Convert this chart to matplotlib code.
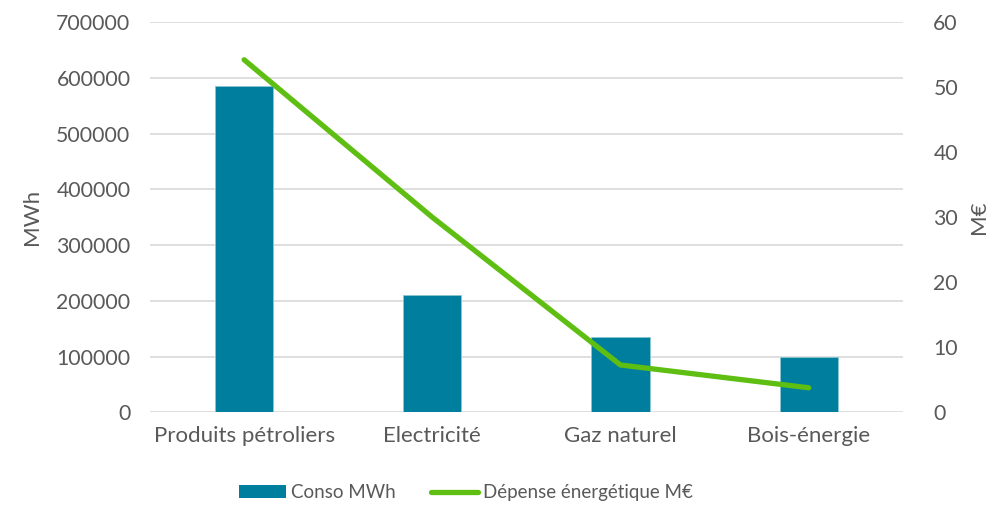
import matplotlib.pyplot as plt
from matplotlib.lines import Line2D
from matplotlib.patches import Patch

plt.rcParams.update({
    'font.family': ['Lato', 'DejaVu Sans'],
    'font.size': 15,
    'text.color': '#595959',
    'axes.labelcolor': '#595959',
    'xtick.color': '#595959',
    'ytick.color': '#595959',
})

categories = ["Produits pétroliers", "Electricité", "Gaz naturel", "Bois-énergie"]
conso_mwh = [585000, 210000, 136000, 99000]
depense_meur = [54.2, 30.0, 7.3, 3.8]

bar_color = "#007E9E"
line_color = "#5EBE12"

fig = plt.figure(figsize=(10.02, 5.07), dpi=100)
ax = fig.add_axes([0.1497, 0.1864, 0.7513, 0.7702])
ax2 = ax.twinx()

x = list(range(len(categories)))
ax.bar(x, conso_mwh, width=0.31, color=bar_color, edgecolor="#8cc6d4", linewidth=0.6, zorder=2)
ax2.plot(x, depense_meur, color=line_color, linewidth=3.8, solid_capstyle='round',
         solid_joinstyle='round', zorder=3)

ax.set_xlim(-0.5, len(categories) - 0.5)
ax.set_ylim(0, 700000)
ax2.set_ylim(0, 60)
ax.set_yticks(range(0, 700001, 100000))
ax2.set_yticks(range(0, 61, 10))
ax.set_xticks(x)
ax.set_xticklabels(categories, fontsize=16)

ax.grid(axis='y', color='#D9D9D9', linewidth=1.2, zorder=0)
ax.set_axisbelow(True)
for a in (ax, ax2):
    for s in a.spines.values():
        s.set_visible(False)
    a.tick_params(length=0)
ax.tick_params(axis='y', pad=14, labelsize=15.3)
ax.tick_params(axis='x', pad=10)
ax2.tick_params(axis='y', pad=22, labelsize=15.3)

ax.set_ylabel("MWh", labelpad=10, fontsize=16)
ax2.set_ylabel("M€", labelpad=8, fontsize=16)

handles = [Patch(facecolor=bar_color), Line2D([0], [0], color=line_color, linewidth=3.8,
                                              solid_capstyle='round')]
fig.legend(handles, ["Conso MWh", "Dépense énergétique M€"], loc='lower center',
           bbox_to_anchor=(0.465, -0.022), ncol=2, frameon=False, fontsize=13.5,
           handlelength=2.5, handletextpad=0.25, columnspacing=1.9, handleheight=0.65)

fig.savefig("out.png", dpi=100)
